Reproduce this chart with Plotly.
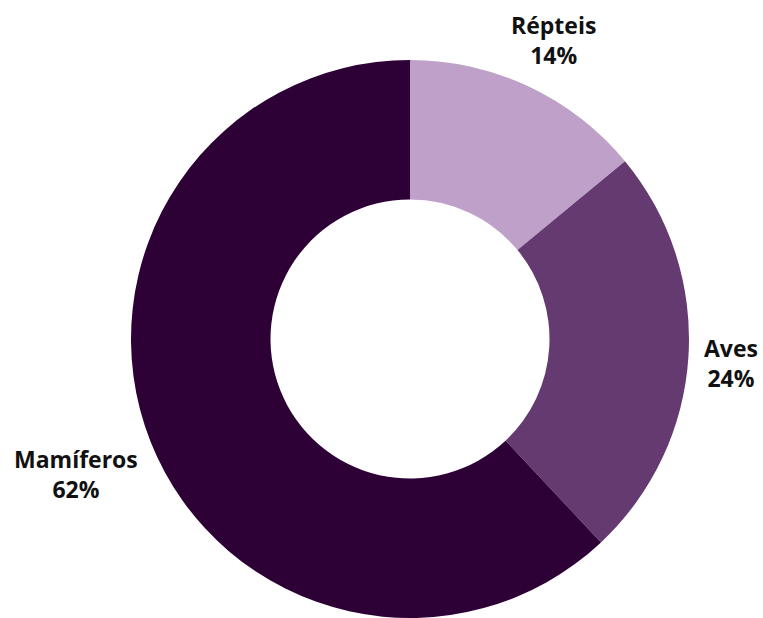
import plotly.graph_objects as go

categories = ["Répteis", "Aves", "Mamíferos"]
values = [14, 24, 62]
colors = ["#BEA0C8", "#653A71", "#2D0036"]

W, H = 763, 618
fig = go.Figure(go.Pie(
    labels=categories, values=values, hole=0.5, sort=False,
    direction="clockwise", rotation=0,
    marker=dict(colors=colors, line=dict(width=0)),
    textinfo="none", hoverinfo="label+percent",
    domain=dict(x=[131 / W, 689 / W], y=[0, 1 - 60 / H]),
    showlegend=False,
))

# label centre positions (pixels)
label_pos = [(553, 40), (731, 363), (76, 474)]
for cat, v, (x, y) in zip(categories, values, label_pos):
    fig.add_annotation(
        x=x / W, y=1 - y / H, xref="paper", yref="paper",
        text=f"<b>{cat}</b><br><b>{v}%</b>", showarrow=False,
        xanchor="center", yanchor="middle", align="center",
        font=dict(family="Open Sans", size=23, color="#111111"),
    )

fig.update_layout(
    width=W, height=H, margin=dict(l=0, r=0, t=0, b=0),
    paper_bgcolor="white", plot_bgcolor="white",
)
fig.write_html("out.html")
